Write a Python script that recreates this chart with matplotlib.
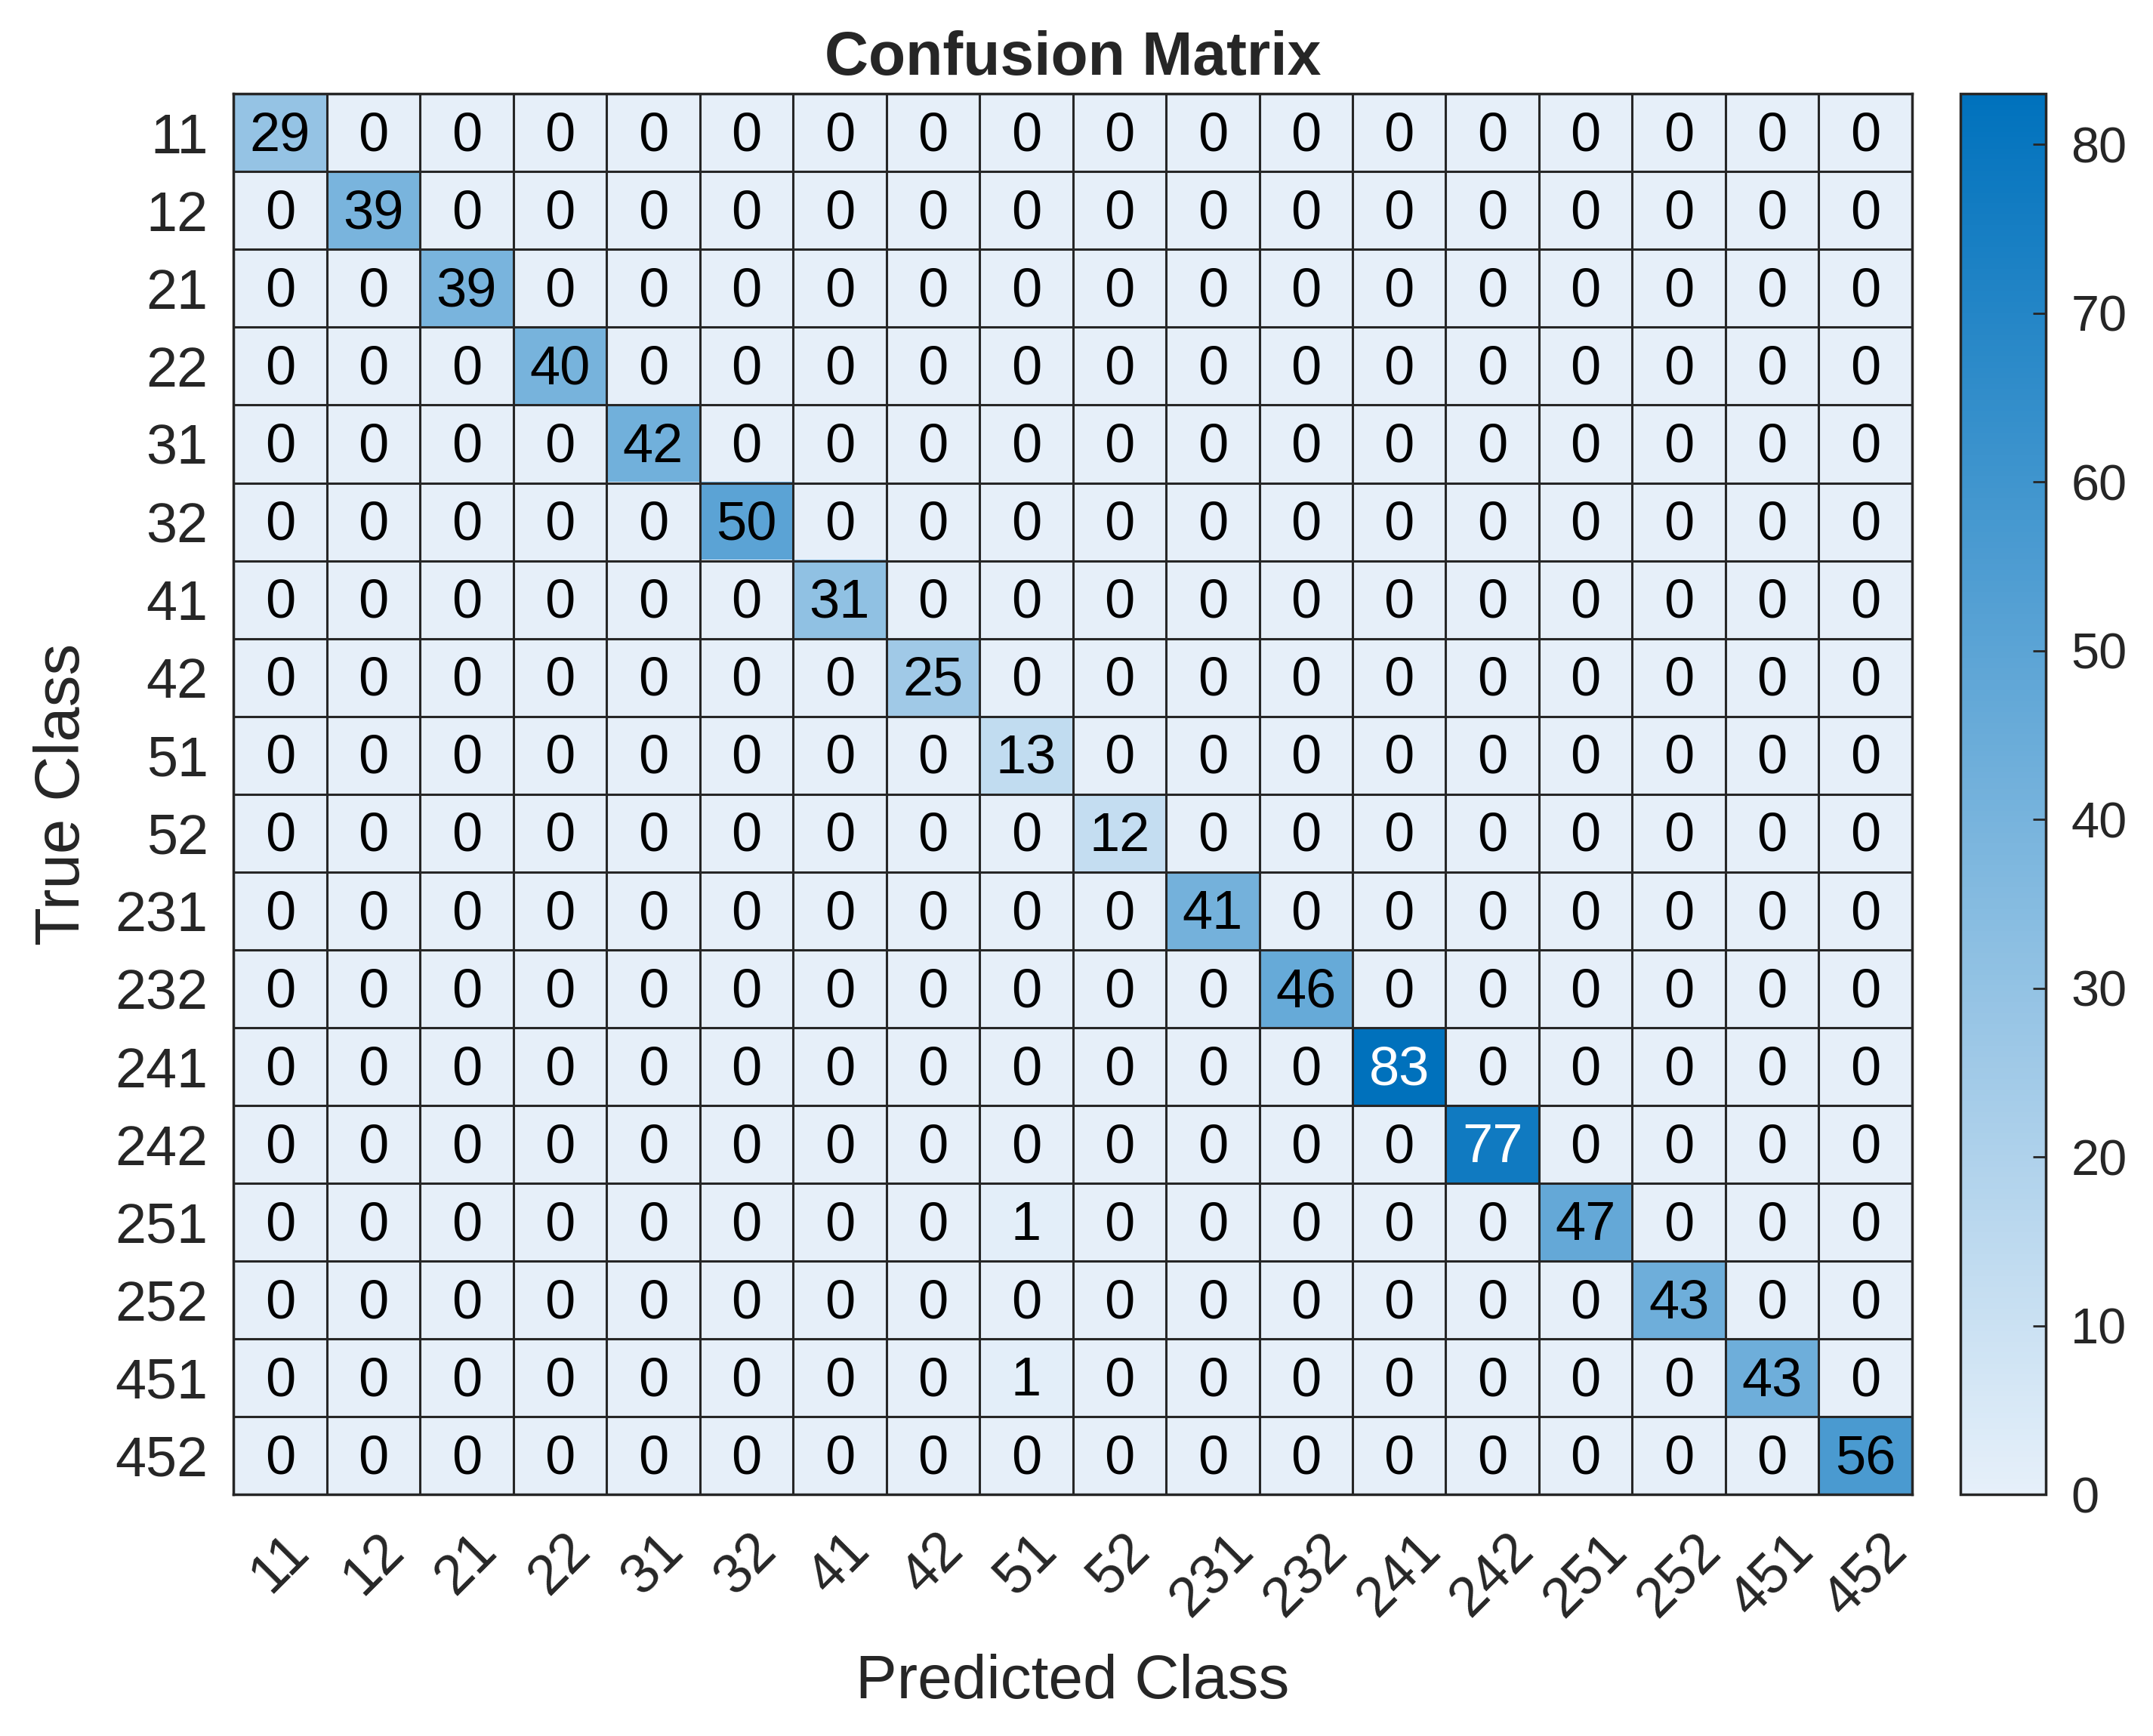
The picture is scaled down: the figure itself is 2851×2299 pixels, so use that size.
"""
Confusion matrix heatmap (MATLAB-style) for 18 classes.
"""

import numpy as np
import matplotlib.pyplot as plt
from matplotlib.colors import LinearSegmentedColormap

# Class labels (rows = true, columns = predicted)
CLASS_LABELS = ["11", "12", "21", "22", "31", "32", "41", "42", "51", "52",
                "231", "232", "241", "242", "251", "252", "451", "452"]

# Correct predictions on the diagonal
DIAG_COUNTS = [29, 39, 39, 40, 42, 50, 31, 25, 13, 12,
               41, 46, 83, 77, 47, 43, 43, 56]

# Off-diagonal errors: (true class, predicted class, count)
MISCLASSIFIED = [("251", "51", 1), ("451", "51", 1)]

CBAR_TICKS = [0, 10, 20, 30, 40, 50, 60, 70, 80]

FONT = "Liberation Sans"
TEXT_COLOR = "#262626"
GRID_COLOR = "#262626"


def build_matrix():
    n = len(CLASS_LABELS)
    cm = np.zeros((n, n), dtype=int)
    for i, v in enumerate(DIAG_COUNTS):
        cm[i, i] = v
    for t, p, v in MISCLASSIFIED:
        cm[CLASS_LABELS.index(t), CLASS_LABELS.index(p)] = v
    return cm


def main():
    cm = build_matrix()
    n = len(CLASS_LABELS)
    vmax = cm.max()

    cmap = LinearSegmentedColormap.from_list(
        "matlab_blue", [(0.902, 0.941, 0.980), (0.0, 0.447, 0.741)]
    )

    plt.rcParams["font.family"] = [FONT, "DejaVu Sans"]
    fig = plt.figure(figsize=(28.51, 22.99), dpi=100)
    ax = fig.add_axes([0.1084, 0.139, 0.7797, 0.807])
    cax = fig.add_axes([0.9107, 0.139, 0.0395, 0.807])

    im = ax.imshow(cm, cmap=cmap, vmin=0, vmax=vmax, aspect="auto",
                   interpolation="nearest")

    # cell borders
    for k in range(n + 1):
        ax.axhline(k - 0.5, color=GRID_COLOR, lw=2.2)
        ax.axvline(k - 0.5, color=GRID_COLOR, lw=2.2)

    # cell values
    for i in range(n):
        for j in range(n):
            v = cm[i, j]
            color = "white" if v / vmax > 0.75 else "black"
            ax.text(j, i + 0.05, str(v), ha="center", va="center",
                    fontsize=52, color=color)

    ax.set_xticks(range(n))
    ax.set_yticks(range(n))
    ax.set_xticklabels(CLASS_LABELS, rotation=45, ha="center", va="top")
    ax.set_yticklabels(CLASS_LABELS)
    ax.tick_params(length=0, labelsize=53, labelcolor=TEXT_COLOR)
    ax.tick_params(axis="x", pad=28)
    ax.tick_params(axis="y", pad=24)
    for s in ax.spines.values():
        s.set_color(GRID_COLOR)
        s.set_linewidth(2.5)

    ax.set_xlabel("Predicted Class", fontsize=59, color=TEXT_COLOR, labelpad=26)
    ax.set_ylabel("True Class", fontsize=60, color=TEXT_COLOR, labelpad=22)
    ax.set_title("Confusion Matrix", fontsize=58, fontweight="bold",
                 color=TEXT_COLOR, pad=18)

    cbar = fig.colorbar(im, cax=cax, ticks=CBAR_TICKS)
    cbar.outline.set_edgecolor(GRID_COLOR)
    cbar.outline.set_linewidth(2.5)
    cax.tick_params(direction="in", length=12, width=2, color=GRID_COLOR,
                    labelsize=48, labelcolor=TEXT_COLOR, pad=24)

    fig.savefig("out.png", dpi=100, facecolor="white")
    plt.close(fig)


if __name__ == "__main__":
    main()
